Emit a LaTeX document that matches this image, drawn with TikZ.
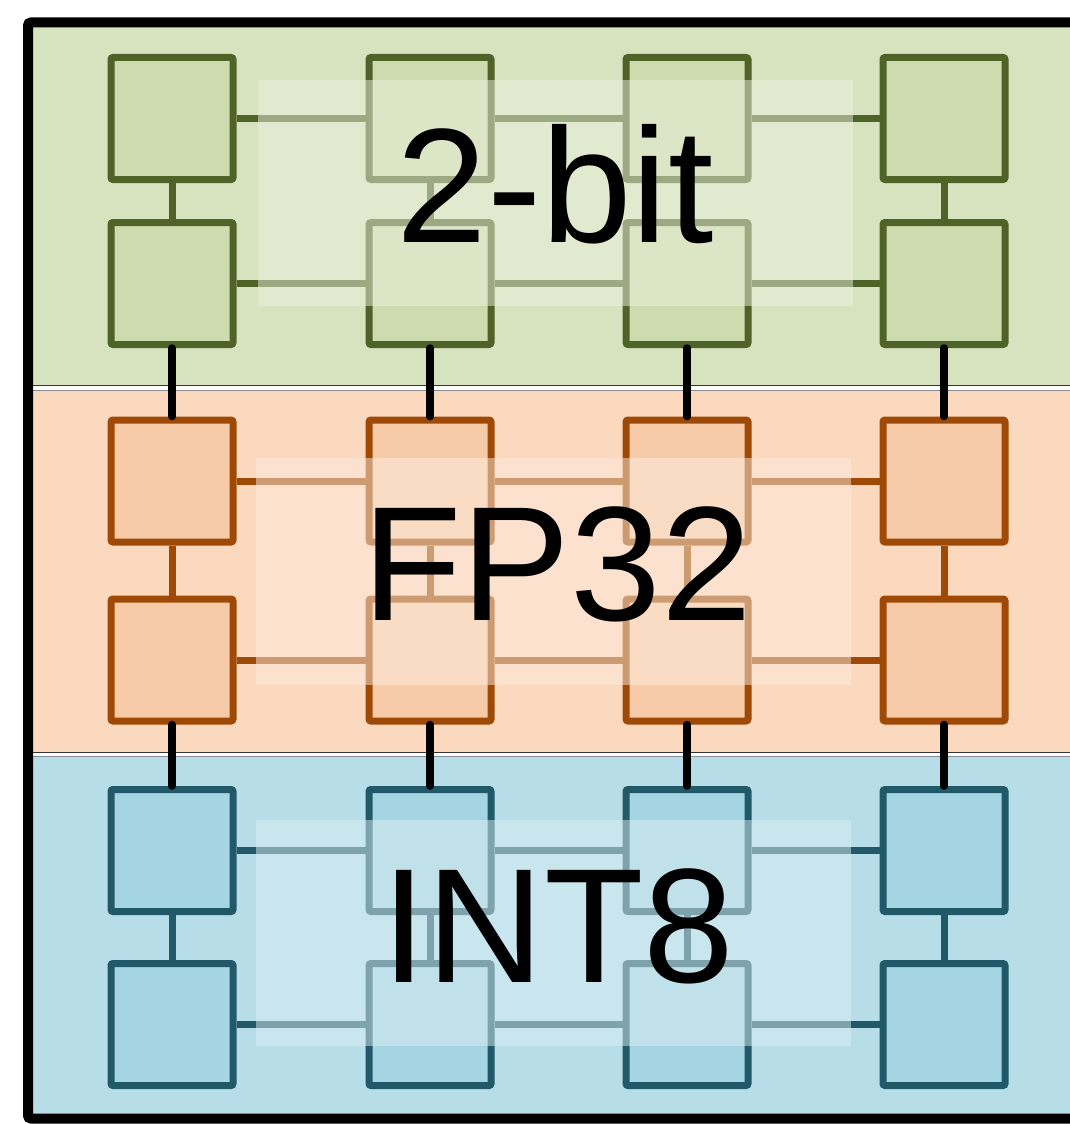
\documentclass[tikz,border=0pt]{standalone}
\usepackage{fontspec}
\setmainfont{Liberation Sans}
\usepackage{tikz}
\usetikzlibrary{calc}
\definecolor{greenband}{RGB}{215,227,191}
\definecolor{greenbox}{RGB}{205,220,174}
\definecolor{greenline}{RGB}{79,98,40}
\definecolor{orangeband}{RGB}{251,217,190}
\definecolor{orangebox}{RGB}{248,203,168}
\definecolor{orangeline}{RGB}{158,74,6}
\definecolor{blueband}{RGB}{183,221,232}
\definecolor{bluebox}{RGB}{165,213,226}
\definecolor{blueline}{RGB}{33,89,104}

\tikzset{
  pe/.style={draw=#1, line width=7pt, minimum size=122pt, inner sep=0pt, rounded corners=2pt},
  link/.style={draw=#1, line width=7pt},
  hop/.style={draw=black, line width=7.5pt, line cap=round},
  veil/.style={fill=#1!50!white, fill opacity=0.5},
  bigtext/.style={anchor=base, inner sep=0pt, font=\fontsize{163}{163}\selectfont}
}

\begin{document}
\begin{tikzpicture}[x=1pt,y=-1pt]
    \useasboundingbox (0,0) rectangle (1070,1124);
    \clip (0,0) rectangle (1070,1124);
    % bands
    \fill[greenband] (28,22) rectangle (1080,385.5);
    \fill[orangeband] (28,390.5) rectangle (1080,752.5);
    \fill[blueband] (28,756) rectangle (1080,1118);
    \draw[black!80, line width=1pt] (28,385.5) -- (1080,385.5);
    \draw[black!45, line width=1pt] (28,390.5) -- (1080,390.5);
    \draw[black!80, line width=1pt] (28,752.5) -- (1080,752.5);
    \draw[black!45, line width=1pt] (28,756.5) -- (1080,756.5);
    % processing elements
    \foreach \x [count=\i] in {172,430,687,944} {
      \node[pe=greenline, fill=greenbox] (gt\i) at (\x,118.5) {};
      \node[pe=greenline, fill=greenbox] (gb\i) at (\x,283.5) {};
      \node[pe=orangeline, fill=orangebox] (ot\i) at (\x,481) {};
      \node[pe=orangeline, fill=orangebox] (ob\i) at (\x,660) {};
      \node[pe=blueline, fill=bluebox] (bt\i) at (\x,850.5) {};
      \node[pe=blueline, fill=bluebox] (bb\i) at (\x,1024.5) {};
      \draw[link=greenline] (gt\i) -- (gb\i);
      \draw[link=orangeline] (ot\i) -- (ob\i);
      \draw[link=blueline] (bt\i) -- (bb\i);
    }
    \foreach \i/\j in {1/2,2/3,3/4} {
      \draw[link=greenline] (gt\i) -- (gt\j);
      \draw[link=greenline] (gb\i) -- (gb\j);
      \draw[link=orangeline] (ot\i) -- (ot\j);
      \draw[link=orangeline] (ob\i) -- (ob\j);
      \draw[link=blueline] (bt\i) -- (bt\j);
      \draw[link=blueline] (bb\i) -- (bb\j);
    }
    % labels
    \fill[veil=greenband] (258,80) rectangle (853,306);
    \fill[veil=orangeband] (256,458) rectangle (851,685);
    \fill[veil=blueband] (256,820) rectangle (851,1046);
    \node[bigtext] (lbit) at (555,242) {2-bit};
    \node[bigtext] (lfp) at (557,620) {FP32};
    \node[bigtext] (lint) at (558,982) {INT8};
    % links between bands
    \foreach \i in {1,2,3,4} {
      \draw[hop] (gb\i.south) -- (ot\i.north);
      \draw[hop] (ob\i.south) -- (bt\i.north);
    }
    \draw[line width=10pt, rounded corners=3pt] (28,22.5) rectangle (1090,1118.5);
\end{tikzpicture}
\end{document}
